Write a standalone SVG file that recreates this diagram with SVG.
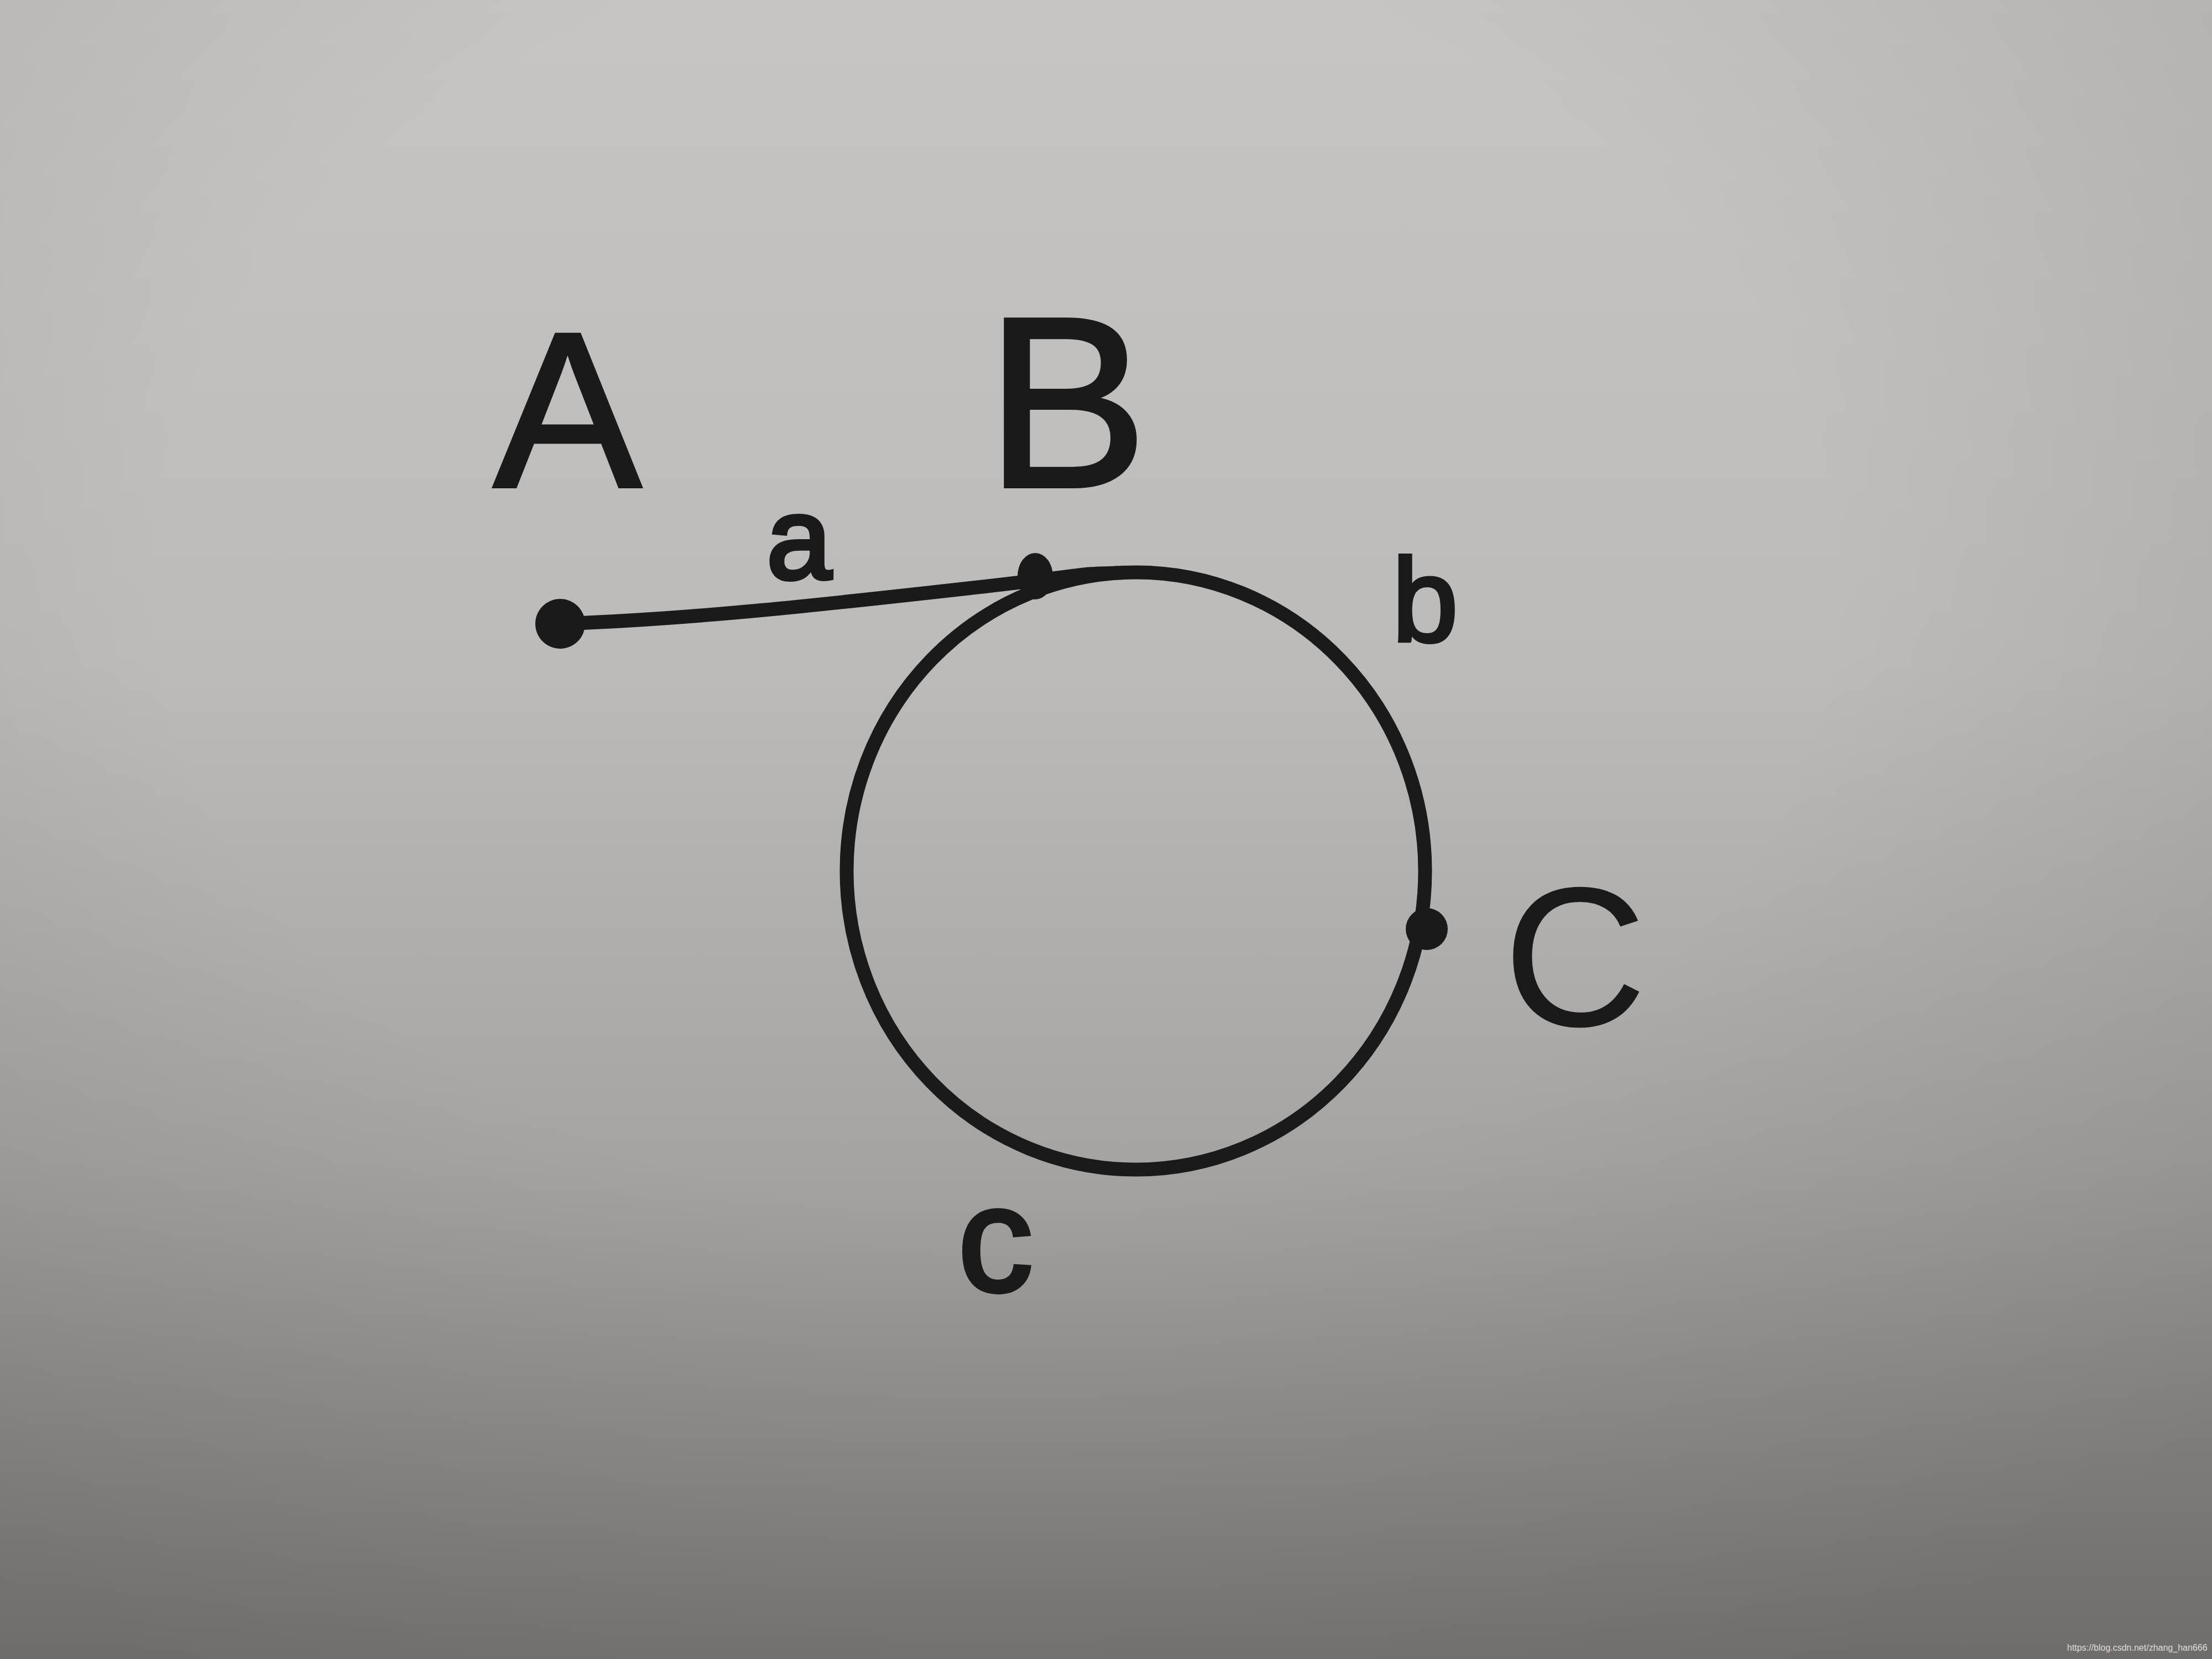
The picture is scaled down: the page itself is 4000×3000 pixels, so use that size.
<svg xmlns="http://www.w3.org/2000/svg" width="4000" height="3000" viewBox="0 0 4000 3000">
<defs>
<linearGradient id="bg" x1="0" y1="0" x2="0" y2="1">
<stop offset="0" stop-color="#c6c5c3"/>
<stop offset="0.4" stop-color="#bcbbb9"/>
<stop offset="0.7" stop-color="#a5a4a2"/>
<stop offset="1" stop-color="#7e7c79"/>
</linearGradient>
<radialGradient id="vig" cx="0.45" cy="0.35" r="0.75">
<stop offset="0.5" stop-color="#000" stop-opacity="0"/>
<stop offset="1" stop-color="#000" stop-opacity="0.12"/>
</radialGradient>
</defs>
<style>
.ink{fill:none;stroke:#1b1a1a;stroke-width:25;stroke-linecap:round;stroke-linejoin:round}
.dot{fill:#1b1a1a}
.lbl{font-family:"Liberation Sans","DejaVu Sans",sans-serif;fill:#1b1a1a;stroke:#1b1a1a;text-anchor:middle}
.wm{font-family:"Liberation Sans",Arial,sans-serif;font-size:16px;fill:#dcdcdc}
</style>
<rect width="4000" height="3000" fill="url(#bg)"/>
<rect width="4000" height="3000" fill="url(#vig)"/>
<g id="connectors">
<path id="edge-a" class="ink" d="M1013 1128 C1250 1120 1500 1092 1750 1064 S1940 1038 2020 1036"/>
<ellipse id="edge-bc" class="ink" cx="2054" cy="1575" rx="523" ry="540"/>
<text class="lbl" x="1445" y="1046" font-size="210" stroke-width="8">a</text>
<text class="lbl" x="2577" y="1160" font-size="215" stroke-width="6">b</text>
<text class="lbl" x="1800" y="2334" font-size="270" stroke-width="8">c</text>
</g>
<g id="node-A">
<circle class="dot" cx="1013" cy="1128" r="45"/>
<text class="lbl" x="1026" y="880" font-size="400" stroke-width="6">A</text>
</g>
<g id="node-B">
<ellipse class="dot" cx="1872" cy="1042" rx="32" ry="42"/>
<text class="lbl" x="1929" y="880" font-size="440" stroke-width="6">B</text>
</g>
<g id="node-C">
<circle class="dot" cx="2580" cy="1680" r="38"/>
<text class="lbl" x="2848" y="1855" font-size="360" stroke-width="0">C</text>
</g>
<text class="wm" x="3738" y="2985">https://blog.csdn.net/zhang_han666</text>
</svg>
